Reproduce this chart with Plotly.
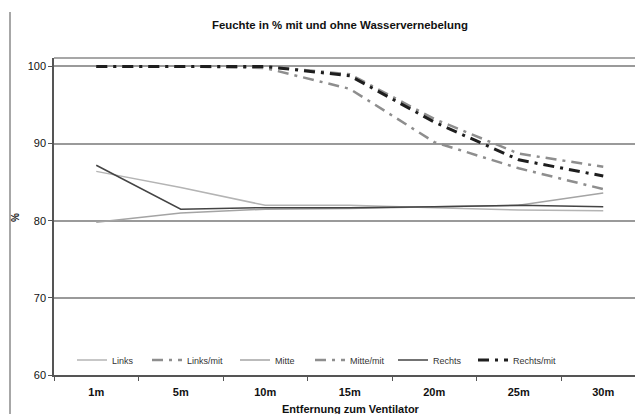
import plotly.graph_objects as go

categories = ["1m", "5m", "10m", "15m", "20m", "25m", "30m"]

links = [86.4, 84.3, 82.0, 82.0, 81.7, 81.4, 81.3]
links_mit = [100.0, 100.0, 100.0, 99.0, 93.2, 88.7, 87.0]
mitte = [79.8, 81.0, 81.5, 81.6, 81.8, 82.0, 83.6]
mitte_mit = [100.0, 100.0, 99.8, 97.1, 90.2, 86.8, 84.1]
rechts = [87.2, 81.5, 81.7, 81.7, 81.8, 82.0, 81.8]
rechts_mit = [100.0, 100.0, 100.0, 98.8, 92.8, 87.9, 85.8]

y_ticks = [60, 70, 80, 90, 100]

FONT = "Liberation Sans, Arial, sans-serif"
DASH = "11px,6px,3px,6px"

series = [
    ("Links", links, dict(color="#b4b4b4", width=1.5)),
    ("Links/mit", links_mit, dict(color="#8e8e8e", width=2.5, dash=DASH)),
    ("Mitte", mitte, dict(color="#a4a4a4", width=1.5)),
    ("Mitte/mit", mitte_mit, dict(color="#8e8e8e", width=2.5, dash=DASH)),
    ("Rechts", rechts, dict(color="#444444", width=1.5)),
    ("Rechts/mit", rechts_mit, dict(color="#1e1e1e", width=3, dash=DASH)),
]
legend_line_starts = [77, 152, 240, 315, 398, 478]  # reference pixel positions

# the page body has an 8px margin; work in reference-pixel coordinates
OFF = 8
W, H = 643 - OFF, 414 - OFF
ml, mt, mb, mr = 46, 50, 39, 0
pw, ph = W - ml - mr, H - mt - mb

def px_x(x):
    return (x - OFF - ml) / pw

def px_y(y):
    return (H - mb - (y - OFF)) / ph

fig = go.Figure()
legend_layouts = {}
for i, (name, vals, line) in enumerate(series):
    lname = "legend" if i == 0 else f"legend{i + 1}"
    fig.add_trace(go.Scatter(x=categories, y=vals, name=name, mode="lines",
                             line=line, legend=lname))
    legend_layouts[lname] = dict(
        orientation="h", x=px_x(legend_line_starts[i] - 5), y=px_y(360),
        xanchor="left", yanchor="middle",
        font=dict(size=9, color="#333333", family=FONT),
        bgcolor="rgba(0,0,0,0)", borderwidth=0,
    )

fig.update_layout(
    width=W, height=H,
    margin=dict(l=ml, r=mr, t=mt, b=mb, pad=0, autoexpand=False),
    paper_bgcolor="white", plot_bgcolor="white",
    font=dict(family=FONT, color="#222222"),
    showlegend=True,
    xaxis=dict(
        type="category", range=[-0.5, -0.5 + pw / 84.5], automargin=False,
        showgrid=False, showline=True, linecolor="#555555", linewidth=1.5,
        ticks="outside", tickson="boundaries", ticklen=4, tickcolor="#555555", tickwidth=1,
        tickfont=dict(size=11, family=FONT, color="#111111"),
        ticklabelstandoff=6, zeroline=False, fixedrange=True,
    ),
    yaxis=dict(
        range=[60, 101.1], tickvals=y_ticks, automargin=False,
        showgrid=True, gridcolor="#9a9a9a", gridwidth=1.5,
        showline=True, linecolor="#555555", linewidth=1.5,
        ticks="outside", ticklen=4, tickcolor="#555555", tickwidth=1,
        tickfont=dict(size=11, family=FONT, color="#111111"),
        ticklabelstandoff=0, zeroline=False, fixedrange=True,
    ),
    **legend_layouts,
)

# tick labels bold
fig.update_xaxes(tickprefix="<b>", ticksuffix="</b>")
fig.update_yaxes(tickprefix="<b>", ticksuffix="</b>")

# top frame line of plot area
fig.add_shape(type="line", xref="paper", yref="paper", x0=0, x1=1, y0=1, y1=1,
              line=dict(color="#8a8a8a", width=1.5))
# left border of chart area
fig.add_shape(type="line", xref="paper", yref="paper", x0=px_x(10), x1=px_x(10),
              y0=px_y(414), y1=px_y(12), line=dict(color="#8a8a8a", width=1.5))

fig.add_annotation(text="<b>Feuchte in % mit und ohne Wasservernebelung</b>",
                   xref="paper", yref="paper", x=px_x(340), y=px_y(25),
                   xanchor="center", yanchor="middle", showarrow=False,
                   font=dict(size=11.4, family=FONT, color="#111111"))
fig.add_annotation(text="<b>%</b>", xref="paper", yref="paper", x=px_x(15), y=px_y(218),
                   xanchor="center", yanchor="middle", textangle=-90, showarrow=False,
                   font=dict(size=10, family=FONT, color="#111111"))
fig.add_annotation(text="<b>Entfernung zum Ventilator</b>", xref="paper", yref="paper",
                   x=px_x(351), y=px_y(409), xanchor="center", yanchor="middle",
                   showarrow=False, font=dict(size=11, family=FONT, color="#111111"))

fig.write_html("out.html", config=dict(displayModeBar=False))
